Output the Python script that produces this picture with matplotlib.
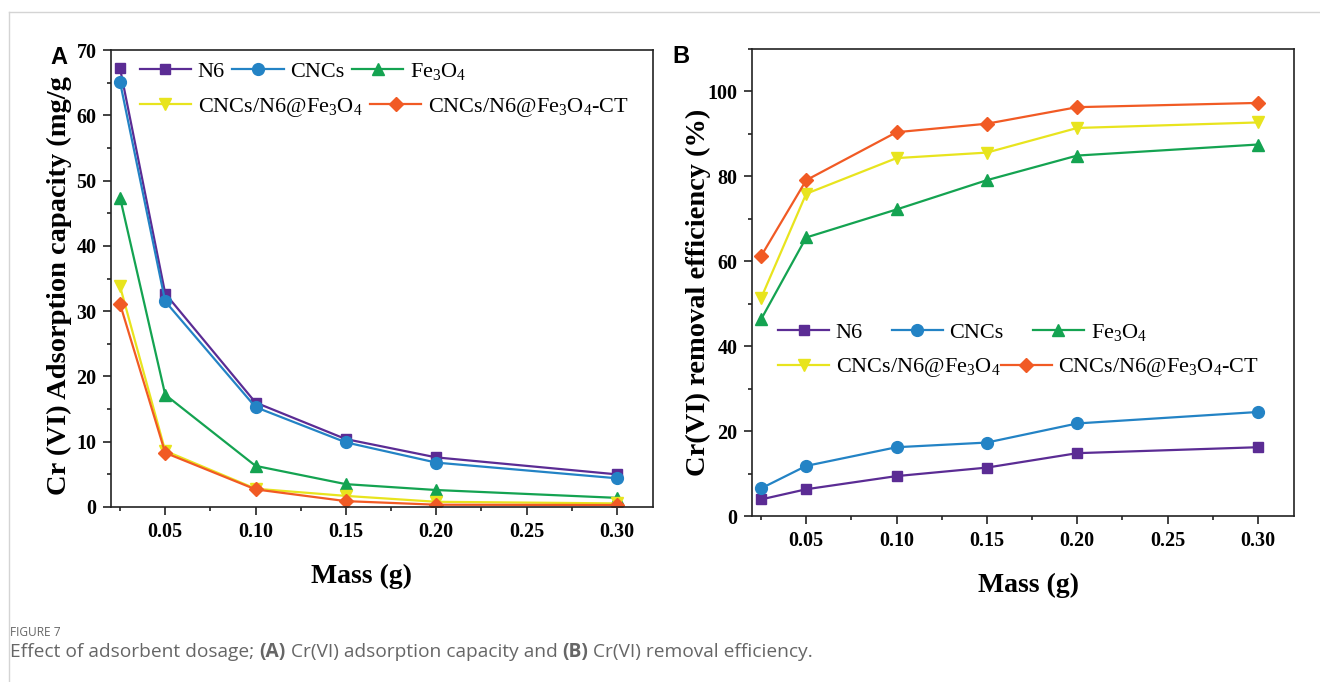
import numpy as np
import matplotlib
matplotlib.use("Agg")
import matplotlib.pyplot as plt
from matplotlib.lines import Line2D
from matplotlib.ticker import MultipleLocator

plt.rcParams['font.family'] = 'Liberation Serif'
plt.rcParams['mathtext.fontset'] = 'custom'
plt.rcParams['mathtext.rm'] = 'Liberation Serif'
plt.rcParams['mathtext.it'] = 'Liberation Serif:italic'
plt.rcParams['mathtext.bf'] = 'Liberation Serif:bold'

# adsorbent mass (g)
mass = [0.025, 0.05, 0.10, 0.15, 0.20, 0.30]

# (A) Cr(VI) adsorption capacity, mg/g
cap_n6 = [67.2, 32.7, 16.0, 10.4, 7.6, 5.0]
cap_cncs = [65.1, 31.5, 15.3, 9.9, 6.8, 4.4]
cap_fe3o4 = [47.4, 17.2, 6.3, 3.5, 2.6, 1.4]
cap_comp = [33.8, 8.6, 2.8, 1.7, 0.8, 0.55]
cap_ct = [31.1, 8.3, 2.7, 0.9, 0.35, 0.3]

# (B) Cr(VI) removal efficiency, %
rem_n6 = [3.9, 6.3, 9.4, 11.4, 14.8, 16.2]
rem_cncs = [6.5, 11.8, 16.2, 17.3, 21.8, 24.5]
rem_fe3o4 = [46.3, 65.6, 72.2, 79.1, 84.9, 87.5]
rem_comp = [51.3, 75.9, 84.3, 85.6, 91.4, 92.7]
rem_ct = [61.2, 79.1, 90.4, 92.4, 96.3, 97.3]

names = ['N6', 'CNCs', r'Fe$_\mathregular{3}$O$_\mathregular{4}$',
         r'CNCs/N6@Fe$_\mathregular{3}$O$_\mathregular{4}$',
         r'CNCs/N6@Fe$_\mathregular{3}$O$_\mathregular{4}$-CT']
colors = ['#5B2C94', '#2383C5', '#14A351', '#E8E41E', '#F15A24']
markers = ['s', 'o', '^', 'v', 'D']
msizes = [7.5, 8.5, 8.5, 8.5, 7.5]

W, H = 1320, 682
fig = plt.figure(figsize=(W / 100, H / 100), dpi=100)

# thin page frame
fig.add_artist(Line2D([9 / W, 9 / W], [0, 1 - 12 / H], color='#d4d4d4', lw=1))
fig.add_artist(Line2D([9 / W, 1], [1 - 12 / H, 1 - 12 / H], color='#d4d4d4', lw=1))

axA = fig.add_axes([111 / W, 1 - 507 / H, 542 / W, 457 / H])
axB = fig.add_axes([752 / W, 1 - 516 / H, 542 / W, 467 / H])


def style(ax):
    for s in ax.spines.values():
        s.set_linewidth(1.2)
        s.set_color('#222222')
    ax.tick_params(which='both', direction='out', top=False, right=False,
                   width=1.2, color='#222222')
    ax.tick_params(which='major', length=5.5, pad=5, labelsize=14.5)
    ax.tick_params(which='minor', length=3)
    ax.set_xlim(0.02, 0.32)
    ax.xaxis.set_minor_locator(MultipleLocator(0.025))
    ax.set_xticks([0.05, 0.10, 0.15, 0.20, 0.25, 0.30])
    ax.set_xticklabels(['0.05', '0.10', '0.15', '0.20', '0.25', '0.30'],
                       fontweight='bold')


def draw(ax, series):
    handles = []
    for y, c, m, ms, n in zip(series, colors, markers, msizes, names):
        h, = ax.plot(mass, y, color=c, marker=m, ms=ms, lw=1.6,
                     mec=c, mfc=c, label=n)
        handles.append(h)
    return handles


def two_row_legend(ax, handles, x, y1, y2, sp1, sp2):
    leg1 = ax.legend(handles[:3], names[:3], loc='center left',
                     bbox_to_anchor=(x, y1), ncol=3, frameon=False,
                     fontsize=16, handlelength=2.3, handletextpad=0.3,
                     columnspacing=sp1, borderpad=0, borderaxespad=0)
    ax.add_artist(leg1)
    ax.legend(handles[3:], names[3:], loc='center left',
              bbox_to_anchor=(x, y2), ncol=2, frameon=False,
              fontsize=16, handlelength=2.3, handletextpad=0.3,
              columnspacing=sp2, borderpad=0, borderaxespad=0)


# panel A
hA = draw(axA, [cap_n6, cap_cncs, cap_fe3o4, cap_comp, cap_ct])
style(axA)
axA.set_ylim(0, 70)
axA.yaxis.set_minor_locator(MultipleLocator(5))
axA.set_yticks(np.arange(0, 71, 10))
axA.set_yticklabels([str(v) for v in range(0, 71, 10)], fontweight='bold')
axA.set_ylabel('Cr (VI) Adsorption capacity (mg/g', fontsize=20.5,
               fontweight='bold')
axA.yaxis.set_label_coords(-0.072, 0.484)
axA.set_xlabel('Mass (g)', fontsize=20, fontweight='bold')
axA.xaxis.set_label_coords(0.463, -0.124)
two_row_legend(axA, hA, 0.053, 0.954, 0.875, 0.35, 0.35)

# panel B
hB = draw(axB, [rem_n6, rem_cncs, rem_fe3o4, rem_comp, rem_ct])
style(axB)
axB.set_ylim(0, 110)
axB.set_yticks([0, 20, 40, 60, 80, 100])
axB.set_yticklabels(['0', '20', '40', '60', '80', '100'], fontweight='bold')
axB.yaxis.set_minor_locator(MultipleLocator(10))
axB.set_ylabel('Cr(VI) removal efficiency (%)', fontsize=20.5,
               fontweight='bold')
axB.yaxis.set_label_coords(-0.076, 0.478)
axB.set_xlabel('Mass (g)', fontsize=20, fontweight='bold')
axB.xaxis.set_label_coords(0.511, -0.121)
two_row_legend(axB, hB, 0.048, 0.394, 0.317, 1.3, 0.0)

# panel letters
fig.text(50 / W, 1 - 64 / H, 'A', family='Liberation Sans', fontweight='bold',
         fontsize=17)
fig.text(672 / W, 1 - 63 / H, 'B', family='Liberation Sans', fontweight='bold',
         fontsize=17)

# caption
cap_font = dict(family='Open Sans', color='#666666')
fig.text(10 / W, 1 - 636 / H, 'FIGURE 7', fontsize=8.6, **cap_font)
pieces = [('Effect of adsorbent dosage; ', 'normal'), ('(A)', 'bold'),
          (' Cr(VI) adsorption capacity and ', 'normal'), ('(B)', 'bold'),
          (' Cr(VI) removal efficiency.', 'normal')]
renderer = fig.canvas.get_renderer()
x = 10
for txt, wt in pieces:
    t = fig.text(x / W, 1 - 657 / H, txt, fontsize=13.8, fontweight=wt,
                 **cap_font)
    x += t.get_window_extent(renderer).width

fig.savefig('out.png', dpi=100)
